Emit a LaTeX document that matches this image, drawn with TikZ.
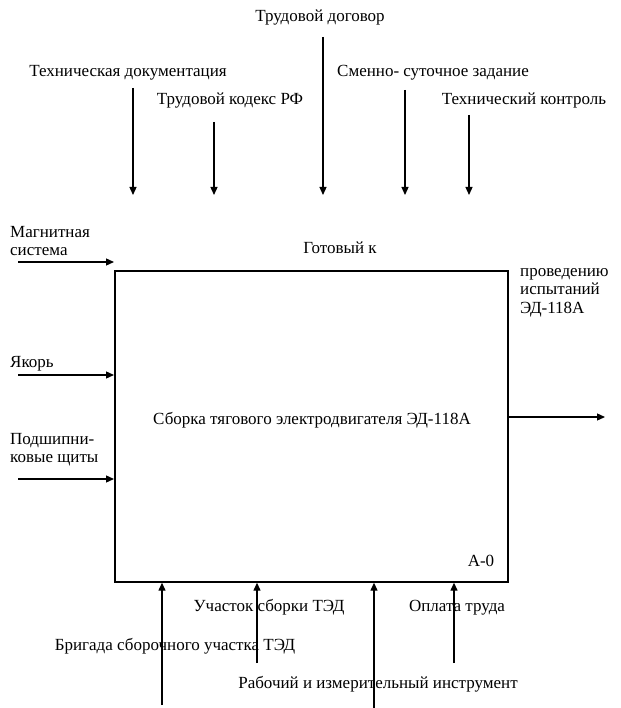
\documentclass[tikz,border=0pt]{standalone}
\usepackage{fontspec}
\setmainfont{Liberation Serif}
\usetikzlibrary{arrows.meta}
\begin{document}
\begin{tikzpicture}[x=1pt,y=-1pt,
  lbl/.style={font=\fontsize{17}{20}\selectfont, inner sep=0pt, text height=12pt, text depth=4pt},
  lblw/.style={lbl, anchor=west},
  flow/.style={line width=1.3pt, -{Triangle[length=8pt,width=7pt]}},
  boxst/.style={draw, line width=1.7pt, inner sep=0pt, anchor=north west}
]
\useasboundingbox (0,0) rectangle (620,708);
% main box
\node[boxst, minimum width=393pt, minimum height=311pt] (box) at (114,270) {};
\node[lbl] (title) at (312,420) {Сборка тягового электродвигателя ЭД-118А};
\node[lbl] (code) at (481,562) {А-0};
% top labels
\node[lbl] (ltd) at (320,18) {Трудовой договор};
\node[lbl] (ltdoc) at (128,73) {Техническая документация};
\node[lbl] (ltk) at (230,101) {Трудовой кодекс РФ};
\node[lbl] (lsz) at (433,73) {Сменно- суточное задание};
\node[lbl] (ltc) at (524,101) {Технический контроль};
% top arrows
\coordinate (t1s) at (133,88);  \coordinate (t1e) at (133,195);
\coordinate (t2s) at (214,122); \coordinate (t2e) at (214,195);
\coordinate (t3s) at (323,37);  \coordinate (t3e) at (323,195);
\coordinate (t4s) at (405,90);  \coordinate (t4e) at (405,195);
\coordinate (t5s) at (469,115); \coordinate (t5e) at (469,195);
\draw[flow] (t1s) -- (t1e);
\draw[flow] (t2s) -- (t2e);
\draw[flow] (t3s) -- (t3e);
\draw[flow] (t4s) -- (t4e);
\draw[flow] (t5s) -- (t5e);
% left labels
\node[lblw] (lm1) at (10,233) {Магнитная};
\node[lblw] (lm2) at (10,251) {система};
\node[lblw] (lya) at (10,363) {Якорь};
\node[lblw] (lp1) at (10,440) {Подшипни-};
\node[lblw] (lp2) at (10,458) {ковые щиты};
% left arrows
\coordinate (i1s) at (18,262); \coordinate (i1e) at (114,262);
\coordinate (i2s) at (18,375);
\coordinate (i3s) at (18,479);
\draw[flow] (i1s) -- (i1e);
\draw[flow] (i2s) -- (i2s -| box.west);
\draw[flow] (i3s) -- (i3s -| box.west);
% output
\node[lbl] (lgk) at (340,250) {Готовый к};
\node[lblw] (lo1) at (520,272) {проведению};
\node[lblw] (lo2) at (520,290) {испытаний};
\node[lblw] (lo3) at (520,309) {ЭД-118А};
\coordinate (oe) at (605,417);
\draw[flow] (oe -| box.east) -- (oe);
% bottom labels
\node[lbl] (luch) at (269,607) {Участок сборки ТЭД};
\node[lbl] (lopl) at (457,607) {Оплата труда};
\node[lbl] (lbr) at (175,646) {Бригада сборочного участка ТЭД};
\node[lbl] (lri) at (378,684) {Рабочий и измерительный инструмент};
% bottom arrows
\coordinate (b1) at (162,705);
\coordinate (b2) at (257,663);
\coordinate (b3) at (374,708);
\coordinate (b4) at (454,663);
\draw[flow] (b1) -- (b1 |- box.south);
\draw[flow] (b2) -- (b2 |- box.south);
\draw[flow] (b3) -- (b3 |- box.south);
\draw[flow] (b4) -- (b4 |- box.south);
\end{tikzpicture}
\end{document}
